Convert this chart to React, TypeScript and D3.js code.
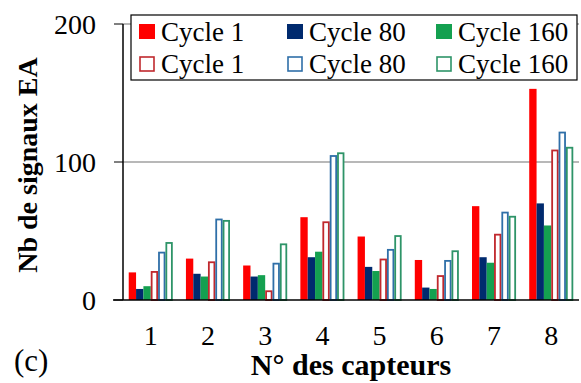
import React from "react";
import * as d3 from "d3";

const categories = ["1", "2", "3", "4", "5", "6", "7", "8"];
const seriesNames = ["Cycle 1", "Cycle 80", "Cycle 160", "Cycle 1", "Cycle 80", "Cycle 160"];
const filledCycle1 = [20, 30, 25, 60, 46, 29, 68, 153];
const filledCycle80 = [8, 19, 17, 31, 24, 9, 31, 70];
const filledCycle160 = [10, 17, 18, 35, 21, 8, 27, 54];
const outlineCycle1 = [21, 28, 7, 57, 30, 18, 48, 109];
const outlineCycle80 = [35, 59, 27, 105, 37, 29, 64, 122];
const outlineCycle160 = [42, 58, 41, 107, 47, 36, 61, 111];
const yTicks = [0, 100, 200];

const seriesValues = [filledCycle1, filledCycle80, filledCycle160, outlineCycle1, outlineCycle80, outlineCycle160];
const styles = [
  { fill: "#ff0000", stroke: "#ff0000" },
  { fill: "#002a6e", stroke: "#002a6e" },
  { fill: "#14a050", stroke: "#14a050" },
  { fill: "#ffffff", stroke: "#c0282d" },
  { fill: "#ffffff", stroke: "#2f6fa8" },
  { fill: "#ffffff", stroke: "#2e9468" },
];

const FONT = "Times New Roman";

function T(props: any) {
  const { size, weight, children, ...rest } = props;
  return (
    <text {...rest} fontFamily={FONT} style={{ fontFamily: `"${FONT}"`, fontSize: `${size}px`, fontWeight: weight || "normal" }} fill="#000">
      {children}
    </text>
  );
}

export default function App() {
  const W = 581, H = 383;
  const left = 123, right = 579, top = 24, bottom = 300;
  const x = d3.scaleBand<string>().domain(categories).range([left, right]).paddingInner(0.23).paddingOuter(0.1);
  const xs = d3.scaleBand<number>().domain(d3.range(6)).range([0, x.bandwidth()]).padding(0);
  const y = d3.scaleLinear().domain([0, 200]).range([bottom, top]);

  const legendX = [139, 287, 436];
  const legendRows = [32, 64];

  return (
    <svg width={W} height={H} fontFamily={FONT} style={{ position: "absolute", left: 0, top: 0, display: "block", fontFamily: `"${FONT}"` }}>
      <rect x={0} y={0} width={W} height={H} fill="#fff" />
      {yTicks.filter(t => t > 0).map(t => (
        <line key={"g" + t} x1={left} x2={right} y1={y(t)} y2={y(t)} stroke="#a0a0a0" strokeWidth={1.5} />
      ))}
      {categories.map((c, i) => (
        <g key={c}>
          {seriesValues.map((vals, s) => {
            const st = styles[s];
            const outline = s >= 3;
            const x0 = (x(c) as number) + (xs(s) as number);
            const w = xs.bandwidth();
            return outline ? (
              <rect key={s} x={x0 + 0.9} y={y(vals[i]) + 0.9} width={w - 1.8} height={y(0) - y(vals[i]) - 0.9}
                fill={st.fill} stroke={st.stroke} strokeWidth={1.8} />
            ) : (
              <rect key={s} x={x0} y={y(vals[i])} width={w} height={y(0) - y(vals[i])} fill={st.fill} />
            );
          })}
        </g>
      ))}
      <line x1={left} x2={left} y1={top} y2={bottom} stroke="#000" strokeWidth={1.5} />
      <line x1={113} x2={right} y1={bottom} y2={bottom} stroke="#000" strokeWidth={1.5} />
      {yTicks.map(t => (
        <g key={"t" + t}>
          <line x1={114} x2={left} y1={y(t)} y2={y(t)} stroke="#000" strokeWidth={1} />
          <T x={96} y={y(t) + 9.5} textAnchor="end" size={28}>{t}</T>
        </g>
      ))}
      {categories.map(c => (
        <T key={"l" + c} x={(x(c) as number) + x.bandwidth() / 2} y={345} textAnchor="middle" size={28}>{c}</T>
      ))}
      <T transform="translate(37,165) rotate(-90)" textAnchor="middle" size={28} weight="bold">Nb de signaux EA</T>
      <T x={351} y={375} textAnchor="middle" size={30} weight="bold">N° des capteurs</T>
      <T x={14} y={371} size={31}>(c)</T>
      <rect x={131} y={15} width={446} height={65} fill="#fff" stroke="#000" strokeWidth={1.2} />
      {seriesNames.map((name, s) => {
        const col = s % 3;
        const row = s < 3 ? 0 : 1;
        const st = styles[s];
        const cx = legendX[col];
        const cy = legendRows[row];
        return (
          <g key={"lg" + s}>
            {row === 0 ? (
              <rect x={cx} y={cy - 8} width={16} height={15} fill={st.fill} />
            ) : (
              <rect x={cx + 1} y={cy - 7} width={14} height={14} fill="#fff" stroke={st.stroke} strokeWidth={1.6} />
            )}
            <T x={cx + 22} y={cy + 9} size={27}>{name}</T>
          </g>
        );
      })}
    </svg>
  );
}
